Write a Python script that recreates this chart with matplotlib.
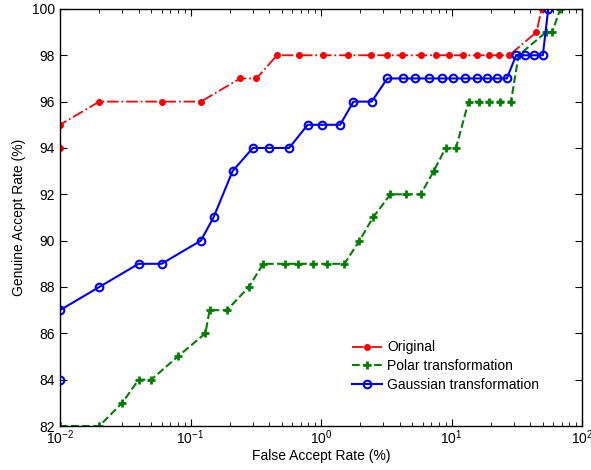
import matplotlib
matplotlib.use('Agg')
import matplotlib.pyplot as plt

plt.rcParams['font.family'] = ['Liberation Sans', 'DejaVu Sans']
plt.rcParams['mathtext.fontset'] = 'custom'
plt.rcParams['mathtext.rm'] = 'Liberation Sans'

# false accept rate (%) / genuine accept rate (%)
orig_x = [0.01, 0.01, 0.02, 0.06, 0.12, 0.24, 0.32, 0.46, 0.68, 1.04, 1.6, 2.4,
          3.2, 4.2, 5.8, 7.6, 9.5, 12.3, 15.6, 19.5, 23.2, 27.7, 44.7, 49]
orig_y = [94, 95, 96, 96, 96, 97, 97, 98, 98, 98, 98, 98,
          98, 98, 98, 98, 98, 98, 98, 98, 98, 98, 99, 100]

polar_x = [0.01, 0.02, 0.03, 0.04, 0.05, 0.08, 0.13, 0.14, 0.19, 0.28, 0.36,
           0.53, 0.66, 0.87, 1.12, 1.51, 1.97, 2.5, 3.4, 4.5, 5.8, 7.3, 9.0,
           10.8, 13.5, 16.3, 19.5, 23.5, 28.5, 32.6, 53, 59, 68]
polar_y = [82, 82, 83, 84, 84, 85, 86, 87, 87, 88, 89,
           89, 89, 89, 89, 89, 90, 91, 92, 92, 92, 93, 94,
           94, 96, 96, 96, 96, 96, 98, 99, 99, 100]

gauss_x = [0.01, 0.01, 0.02, 0.04, 0.06, 0.12, 0.15, 0.21, 0.30, 0.40, 0.57,
           0.79, 1.02, 1.4, 1.77, 2.44, 3.22, 4.25, 5.2, 6.7, 8.4, 10.3, 12.6,
           15.6, 18.8, 22.2, 26.5, 31.2, 36.8, 42.9, 50, 55]
gauss_y = [84, 87, 88, 89, 89, 90, 91, 93, 94, 94, 94,
           95, 95, 95, 96, 96, 97, 97, 97, 97, 97, 97, 97,
           97, 97, 97, 97, 98, 98, 98, 98, 100]

fig = plt.figure(figsize=(5.91, 4.70), dpi=100)
ax = fig.add_axes([0.1015, 0.0936, 0.8835, 0.8874])

ax.plot(orig_x, orig_y, color='#ff0000', linestyle='-.', marker='.',
        markersize=8, linewidth=1.3, label='Original')
ax.plot(polar_x, polar_y, color='#008000', linestyle='--', marker='+',
        markersize=6, markeredgewidth=2, linewidth=1.5, label='Polar transformation')
ax.plot(gauss_x, gauss_y, color='#0000ff', linestyle='-', marker='o',
        markersize=5.5, markerfacecolor='none', markeredgewidth=1.5,
        linewidth=1.5, label='Gaussian transformation')

ax.set_xscale('log')
ax.set_xlim(0.01, 100)
ax.set_ylim(82, 100)
ax.set_yticks(range(82, 101, 2))
ax.tick_params(which='both', direction='in', top=True, right=True, labelsize=10)
ax.tick_params(which='major', length=5)
ax.tick_params(which='minor', length=3)
ax.tick_params(axis='x', which='major', pad=2)
for s in ax.spines.values():
    s.set_linewidth(1.0)

ax.set_xlabel('False Accept Rate (%)', fontsize=10, labelpad=1)
ax.set_ylabel('Genuine Accept Rate (%)', fontsize=10, labelpad=4)

ax.legend(loc='upper left', bbox_to_anchor=(0.545, 0.222), frameon=False,
          fontsize=10, handlelength=2.2, handletextpad=0.35, labelspacing=0.35,
          borderpad=0)

plt.savefig('out.png', dpi=100)
